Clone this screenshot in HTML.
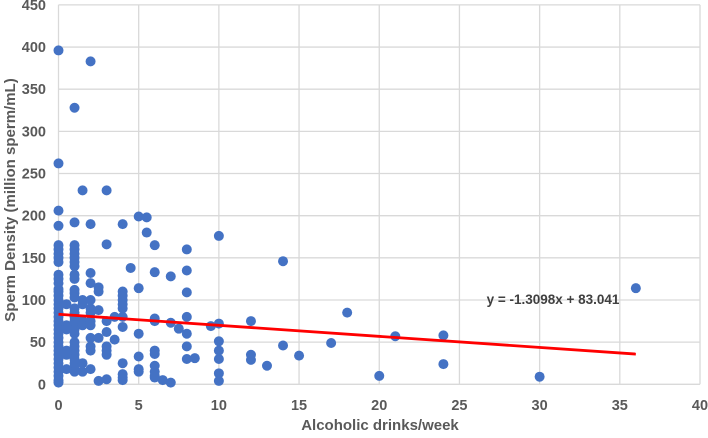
<!DOCTYPE html>
<html><head><meta charset="utf-8"><style>
body{margin:0;background:#fff}
svg text{font-family:"Liberation Sans",sans-serif;font-weight:bold;fill:#595959}
</style></head><body>
<svg id="chart" width="708" height="433" xmlns="http://www.w3.org/2000/svg">
<g id="grid"></g>
<g id="ticks"></g>
<g id="pts"></g>
<g id="trend"></g>
<text x="553" y="304" text-anchor="middle" font-size="13.5" style="fill:#404040">y = -1.3098x + 83.041</text>
<text x="380" y="430" text-anchor="middle" font-size="15">Alcoholic drinks/week</text>
<text transform="translate(15,200) rotate(-90)" text-anchor="middle" font-size="15">Sperm Density (million sperm/mL)</text>
</svg>
<script>
const xTicks=[0,5,10,15,20,25,30,35,40];
const yTicks=[0,50,100,150,200,250,300,350,400,450];
const xs=[0,0,0,0,0,0,0,0,0,0,0,0,0,0,0,0,0,0,0,0,0,0,0,0,0,0,0,0,0,0,0,0,0,0,0,0,
1,1,1,1,1,1,1,1,1,1,1,1,1,1,1,1,1,1,1,1,1,1,1,1,1,1,1,1,
0.5,0.5,0.5,0.5,0.5,0.5,1.5,1.5,1.5,1.5,1.5,1.5,1.5,
2,2,2,2,2,2,2,2,2,2,2,2,2,2.5,2.5,2.5,2.5,2.5,3,3,3,3,3,3,3,3,3.5,3.5,
4,4,4,4,4,4,4,4,4,4,4,4,4.5,5,5,5,5,5,5,5.5,5.5,6,6,6,6,6,6,6,6,6,6,6.5,7,7,7,7.5,
8,8,8,8,8,8,8,8.5,9.5,10,10,10,10,10,10,10,12,12,12,13,14,14,15,17,18,20,21,24,24,30,36];
const ys=[396,262,206,188,165,160,155,150,145,130,125,120,113,110,105,100,95,90,85,80,75,70,65,60,55,50,45,40,35,30,25,20,15,10,5,2,
328,192,165,160,155,150,145,140,130,125,112,108,103,90,85,80,75,70,65,60,50,45,40,35,30,25,20,15,
95,70,65,40,35,18,230,95,100,75,70,25,15,
383,190,132,120,100,90,85,75,70,55,45,40,18,115,110,88,55,4,230,166,75,62,45,40,35,6,80,53,
190,110,105,100,95,90,80,68,25,12,8,5,138,199,114,60,33,18,15,198,180,165,133,78,75,40,36,22,15,10,8,5,128,73,2,66,
160,135,109,80,60,45,30,31,69,176,72,51,40,30,13,4,75,35,29,22,146,46,34,49,85,10,57,58,24,9,114];
const slope=-1.3098, intercept=83.041, trendX=[0,36];
const X=v=>58.5+v*(700-58.5)/40, Y=v=>384.3-v*(384.3-4.9)/450;
const NS="http://www.w3.org/2000/svg";
function mk(t,a,p){const e=document.createElementNS(NS,t);for(const k in a)e.setAttribute(k,a[k]);p.appendChild(e);return e;}
const grid=document.getElementById('grid'),ticks=document.getElementById('ticks');
yTicks.forEach(v=>{const l=mk('line',{x1:58.5,x2:700,y1:Y(v),y2:Y(v),stroke:'#d9d9d9','stroke-width':1.3},grid);


const t=mk('text',{x:46,y:Y(v)+5,'text-anchor':'end','font-size':14.5},ticks);t.textContent=v;

});
xTicks.forEach(v=>{const l=mk('line',{x1:X(v),x2:X(v),y1:Y(0),y2:Y(450),stroke:'#d9d9d9','stroke-width':1.3},grid);


const t=mk('text',{x:X(v),y:410,'text-anchor':'middle','font-size':14.5},ticks);t.textContent=v;

});
const pts=document.getElementById('pts');
xs.forEach((x,i)=>{const c=mk('circle',{cx:X(x),cy:Y(ys[i]),r:5,fill:'#4472c4'},pts);

});
const tl=mk('line',{x1:X(trendX[0]),y1:Y(intercept+slope*trendX[0]),x2:X(trendX[1]),y2:Y(intercept+slope*trendX[1]),stroke:'#ff0000','stroke-width':2.8},document.getElementById('trend'));


</script>
</body></html>
